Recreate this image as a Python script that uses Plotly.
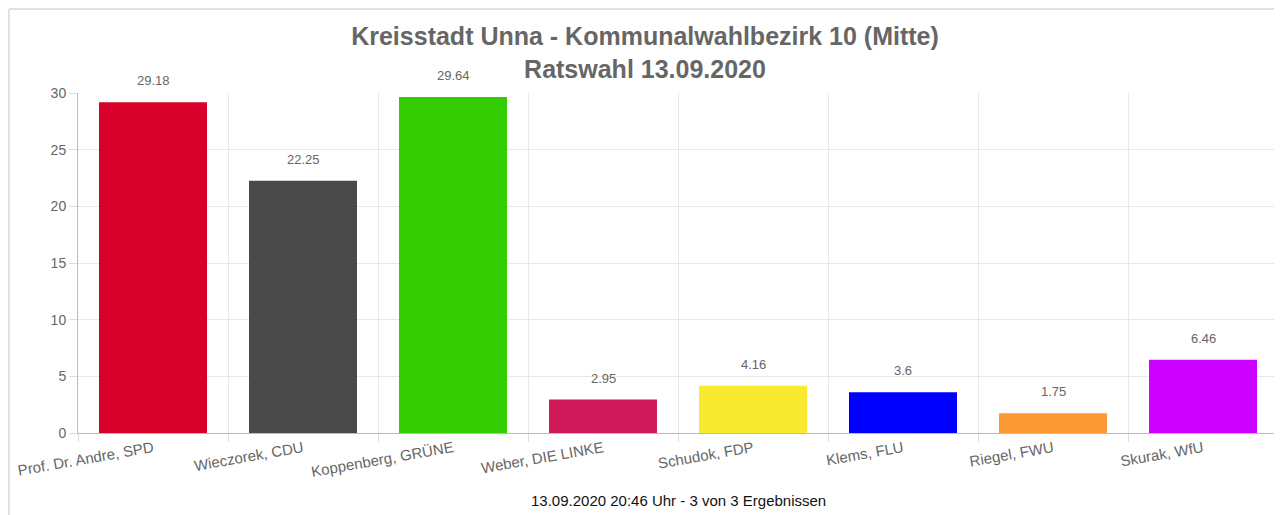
import plotly.graph_objects as go

candidates = ["Prof. Dr. Andre, SPD", "Wieczorek, CDU", "Koppenberg, GRÜNE", "Weber, DIE LINKE",
              "Schudok, FDP", "Klems, FLU", "Riegel, FWU", "Skurak, WfU"]
values = [29.18, 22.25, 29.64, 2.95, 4.16, 3.6, 1.75, 6.46]
colors = ["#d7002a", "#4a4a4a", "#33cc00", "#cf1a5a", "#f7ea30", "#0000ff", "#fb9a35", "#cc00ff"]
y_ticks = [0, 5, 10, 15, 20, 25, 30]

FONT = "Liberation Sans, Arial, sans-serif"

# page body has an 8px margin; figure is sized/offset to compensate
W, H = 1274, 507
L, R, T, B = 70, 4, 85, 82
PW, PH = W - L - R, H - T - B

fig = go.Figure(go.Bar(
    x=candidates, y=values, marker=dict(color=colors, line=dict(width=0)),
    width=0.72, hoverinfo="x+y"
))

for c, v in zip(candidates, values):
    fig.add_annotation(x=c, y=v, text=f"{v:g}", showarrow=False, yanchor="bottom", yshift=12,
                       font=dict(family=FONT, size=13, color="#666666"))

fig.add_annotation(xref="paper", yref="paper", x=0.5, y=-67 / PH, yanchor="middle",
                   text="13.09.2020 20:46 Uhr - 3 von 3 Ergebnissen", showarrow=False,
                   font=dict(family=FONT, size=15, color="#111111"))

# outer frame (top and left edges visible)
fy = (H - B - 1) / PH
fx = -(L - 1) / PW
fig.add_shape(type="line", xref="paper", yref="paper", x0=fx, x1=(W - L) / PW,
              y0=fy, y1=fy, line=dict(color="#dde0e6", width=2))
fig.add_shape(type="line", xref="paper", yref="paper", x0=fx, x1=fx,
              y0=fy, y1=-B / PH, line=dict(color="#dde0e6", width=2))

fig.update_layout(
    width=W, height=H,
    margin=dict(l=L, r=R, t=T, b=B),
    paper_bgcolor="white", plot_bgcolor="white",
    showlegend=False,
    title=dict(text="Kreisstadt Unna - Kommunalwahlbezirk 10 (Mitte)<br>Ratswahl 13.09.2020",
               x=(645 - 8) / W, xref="container", xanchor="center",
               y=1 - 37 / H, yref="container", yanchor="top",
               font=dict(family=FONT, size=25, color="#666666", weight="bold")),
    font=dict(family=FONT, size=13, color="#666666"),
)
fig.update_xaxes(tickangle=-10, tickson="boundaries", ticks="outside", ticklen=8,
                 tickcolor="#dddddd", showgrid=True, gridcolor="#e8e8e8",
                 showline=True, linecolor="#bbbbbb", linewidth=1, automargin=False,
                 tickfont=dict(family=FONT, size=15, color="#666666"))
fig.update_yaxes(range=[0, 30], tickvals=y_ticks, ticks="outside", ticklen=8, tickcolor="#dddddd",
                 showgrid=True, gridcolor="#e8e8e8", zeroline=False, automargin=False,
                 showline=True, linecolor="#bbbbbb", linewidth=1,
                 tickfont=dict(family=FONT, size=14, color="#666666"))

fig.write_html("out.html")
